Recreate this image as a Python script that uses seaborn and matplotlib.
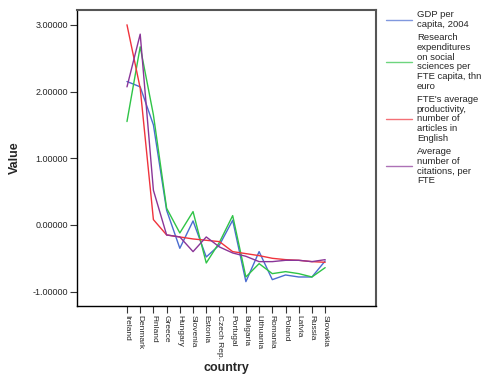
import pandas as pd
import matplotlib
matplotlib.use('Agg')
import matplotlib.pyplot as plt
import seaborn as sns

# data (standardised values)
countries = ['Ireland', 'Denmark', 'Finland', 'Greece', 'Hungary', 'Slovenia', 'Estonia',
             'Czech Rep.', 'Portugal', 'Bulgaria', 'Lithuania', 'Romania', 'Poland',
             'Latvia', 'Russia', 'Slovakia']
gdp = [2.15, 2.07, 1.50, 0.22, -0.35, 0.06, -0.48, -0.30, 0.07, -0.85, -0.40, -0.82,
       -0.75, -0.78, -0.78, -0.54]
research = [1.55, 2.67, 1.65, 0.25, -0.12, 0.20, -0.57, -0.26, 0.14, -0.78, -0.58, -0.73,
            -0.70, -0.73, -0.78, -0.64]
productivity = [3.00, 2.05, 0.08, -0.15, -0.18, -0.21, -0.23, -0.25, -0.40, -0.43, -0.46,
                -0.50, -0.52, -0.53, -0.55, -0.56]
citations = [2.07, 2.86, 0.52, -0.15, -0.18, -0.40, -0.18, -0.33, -0.42, -0.47, -0.55,
             -0.55, -0.53, -0.53, -0.55, -0.52]

series_names = ['GDP per\ncapita, 2004',
                'Research\nexpenditures\non social\nsciences per\nFTE capita, thn\neuro',
                "FTE's average\nproductivity,\nnumber of\narticles in\nEnglish",
                'Average\nnumber of\ncitations, per\nFTE']
colors = ['#4a6cd0', '#2fc447', '#f0333c', '#8a3598']

rows = []
for name, vals in zip(series_names, [gdp, research, productivity, citations]):
    for c, v in zip(countries, vals):
        rows.append({'country': c, 'Value': v, 'series': name})
df = pd.DataFrame(rows)

sns.set_style('white')
plt.rcParams['font.family'] = ['Liberation Sans', 'DejaVu Sans']

fig = plt.figure(figsize=(4.93, 3.75), dpi=100)
ax = fig.add_axes([0.156, 0.184, 0.607, 0.789])

sns.lineplot(data=df, x='country', y='Value', hue='series', palette=colors,
             sort=False, linewidth=1.0, ax=ax, legend=False)

ax.set_xlim(-3.79, 18.86)
ax.set_ylim(-1.215, 3.22)
ax.set_yticks([-1, 0, 1, 2, 3])
ax.set_yticklabels([f'{t:.5f}' for t in [-1, 0, 1, 2, 3]], fontsize=6.5)
ax.set_xticks(range(len(countries)))
ax.set_xticklabels(countries, rotation=-90, fontsize=6)
ax.tick_params(axis='both', direction='out', length=5, width=0.8, color='#333333',
               bottom=True, left=True, pad=1.5)

ax.set_xlabel('country', fontsize=9, fontweight='bold', labelpad=2)
ax.set_ylabel('Value', fontsize=9, fontweight='bold', labelpad=8)

for side in ['left', 'bottom']:
    ax.spines[side].set_color('black')
    ax.spines[side].set_linewidth(1.0)
for side in ['top', 'right']:
    ax.spines[side].set_color('#555555')
    ax.spines[side].set_linewidth(1.5)

handles = [plt.Line2D([], [], color=c, linewidth=1.0, alpha=0.7) for c in colors]
leg = fig.legend(handles, series_names, loc='upper left', bbox_to_anchor=(0.765, 0.995),
                 frameon=False, fontsize=6.8, handlelength=2.8, handletextpad=0.5,
                 labelspacing=0.45)
for t in leg.get_texts():
    t.set_linespacing(1.1)

fig.savefig('out.png', dpi=100)
